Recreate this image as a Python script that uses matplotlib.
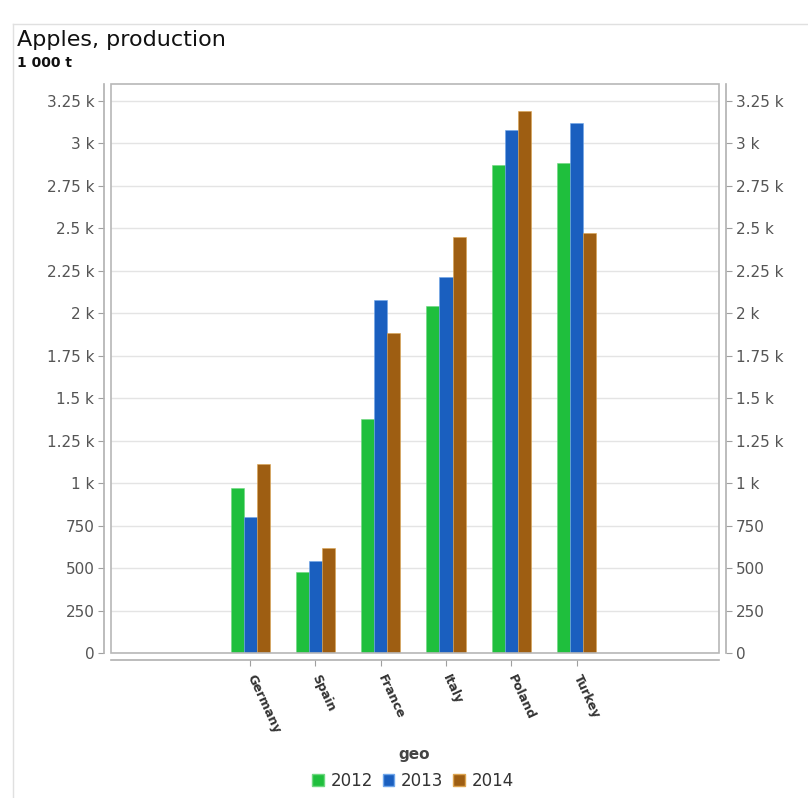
import matplotlib.pyplot as plt
from matplotlib.patches import Rectangle
from matplotlib.lines import Line2D

# Donnees (1 000 t)
pays = ["Germany", "Spain", "France", "Italy", "Poland", "Turkey"]
annees = ["2012", "2013", "2014"]
v2012 = [970, 477, 1380, 2045, 2873, 2887]
v2013 = [800, 541, 2078, 2212, 3079, 3122]
v2014 = [1113, 618, 1886, 2451, 3189, 2475]
valeurs = [v2012, v2013, v2014]

couleurs = ["#1fbf3d", "#1a5fbf", "#9e5e12"]
bords = ["#6fd880", "#6fa6ea", "#dca450"]
yticks = [0, 250, 500, 750, 1000, 1250, 1500, 1750, 2000, 2250, 2500, 2750, 3000, 3250]


def fmt(v):
    if v >= 1000:
        s = ("%g" % (v / 1000.0))
        return s + " k"
    return "%d" % v


W, H = 808, 798
fig = plt.figure(figsize=(W / 100, H / 100), dpi=100)
ax = fig.add_axes([111 / W, 1 - 653 / H, (719 - 111) / W, (653 - 84) / H])

largeur = 0.2
for k in range(len(annees)):
    xs = [i + (k - 1) * largeur for i in range(len(pays))]
    ax.bar(xs, valeurs[k], width=largeur, color=couleurs[k], edgecolor=bords[k],
           linewidth=0.4, label=annees[k], zorder=3)

ax.set_xlim(-2.13, 7.18)
ax.set_ylim(0, 3350)

# Grille
ax.set_yticks(yticks)
ax.set_yticklabels([fmt(v) for v in yticks])
ax.yaxis.grid(True, color="#e4e4e4", linewidth=1, zorder=0)
ax.set_axisbelow(True)

# Axes decales + cadre
for s in ["left", "right", "bottom"]:
    ax.spines[s].set_position(("outward", 5))
    ax.spines[s].set_color("#b0b0b0")
    ax.spines[s].set_linewidth(1.2)
ax.spines["top"].set_visible(False)
ax.add_patch(Rectangle((0, 0), 1, 1, transform=ax.transAxes, fill=False,
                       edgecolor="#b8b8b8", linewidth=1.2, clip_on=False, zorder=5))

ax.tick_params(axis="y", which="both", left=True, right=True, labelleft=True,
               labelright=True, length=4, color="#a0a0a0", labelcolor="#555555",
               labelsize=11, pad=3)
ax.set_xticks(range(len(pays)))
ax.set_xticklabels(pays, rotation=-65, ha="left", va="center",
                   rotation_mode="anchor", fontsize=9, fontweight="bold", color="#333333")
ax.tick_params(axis="x", length=4, color="#a0a0a0", pad=7)

# Titres
fig.text(17 / W, 1 - 46 / H, "Apples, production", fontsize=16, color="#111111")
fig.text(17 / W, 1 - 67 / H, "1 000 t", fontsize=10, fontweight="bold", color="#111111")
fig.text(414 / W, 1 - 754 / H, "geo", fontsize=11, fontweight="bold", color="#444444",
         ha="center", va="center")

# Legende
poignees = [Rectangle((0, 0), 1, 1, facecolor=couleurs[k], edgecolor=bords[k]) for k in range(3)]
fig.legend(poignees, annees, loc="center", bbox_to_anchor=(413 / W, 1 - 781 / H), ncol=3,
           frameon=False, fontsize=12, handlelength=0.7, handleheight=0.7,
           handletextpad=0.4, columnspacing=0.6, labelcolor="#333333")

# Bordure du cadre exterieur
fig.add_artist(Line2D([13 / W, 13 / W], [0, 1 - 24 / H], color="#e0e0e0", linewidth=1))
fig.add_artist(Line2D([13 / W, 1], [1 - 24 / H, 1 - 24 / H], color="#e0e0e0", linewidth=1))

fig.savefig("out.png", dpi=100)
